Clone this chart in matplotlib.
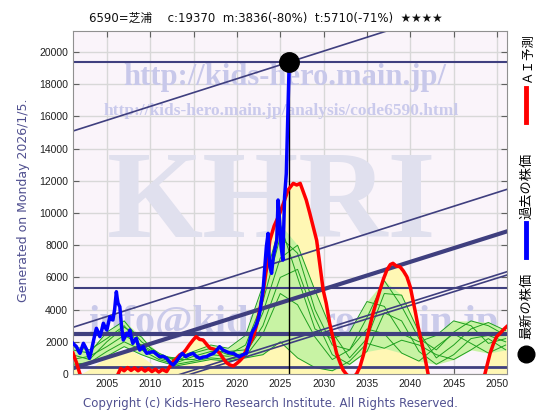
import matplotlib
matplotlib.use("Agg")
import matplotlib.pyplot as plt
from matplotlib.lines import Line2D
import numpy as np

plt.rcParams['font.family'] = ['DejaVu Sans', 'Noto Sans CJK JP']

# ------------ values ----------------------------------
code_name = "6590=芝浦"
close_price = 19370
m_value, m_pct = 3836, -80
t_value, t_pct = 5710, -71

latest_year = 2026.03
latest_price = 19370

# past price (blue)
past_years = [2001.1, 2001.3, 2001.5, 2001.7, 2001.9, 2002.1, 2002.3, 2002.5, 2002.7, 2002.85,
              2003.0, 2003.2, 2003.4, 2003.6, 2003.8, 2004.0, 2004.2, 2004.4, 2004.6, 2004.8,
              2005.0, 2005.2, 2005.35, 2005.5, 2005.7, 2005.9, 2006.1, 2006.2, 2006.3, 2006.5,
              2006.7, 2006.9, 2007.1, 2007.3, 2007.5, 2007.65, 2007.8, 2008.0, 2008.2, 2008.4,
              2008.6, 2008.8, 2009.0, 2009.2, 2009.4, 2009.6, 2010.0, 2010.4, 2010.8, 2011.1,
              2011.5, 2011.9, 2012.3, 2012.65, 2013.0, 2013.4, 2013.7, 2014.1, 2014.5, 2014.95,
              2015.3, 2015.7, 2016.1, 2016.5, 2016.9, 2017.3, 2017.7, 2018.0, 2018.4, 2018.8,
              2019.2, 2019.6, 2020.0, 2020.3, 2020.7, 2021.1, 2021.3, 2021.5, 2021.7, 2021.9,
              2022.1, 2022.3, 2022.5, 2022.65, 2022.85, 2023.05, 2023.2, 2023.4, 2023.6, 2023.7,
              2023.8, 2024.0, 2024.2, 2024.4, 2024.6, 2024.75, 2024.95, 2025.1, 2025.3, 2025.5,
              2025.7, 2025.9, 2026.0]
past_price = [1906, 1800, 1696, 1450, 1284, 1600, 1906, 1700, 1490, 1200,
              975, 1400, 1906, 2400, 2838, 2600, 2320, 2700, 3150, 2900,
              2733, 3200, 3560, 3400, 3354, 4000, 5112, 4700, 4390, 4180,
              2938, 2112, 2300, 2528, 2400, 2733, 2300, 1906, 2100, 2217,
              1800, 1490, 1600, 1696, 1450, 1284, 1350, 1387, 1200, 1077,
              1100, 975, 700, 560, 767, 1077, 1284, 1077, 1200, 1284,
              1100, 975, 1050, 1077, 1200, 1284, 1500, 1696, 1490, 1387,
              1300, 1284, 1150, 1077, 1200, 1284, 1700, 2112, 2500, 2733,
              2900, 3150, 3500, 3870, 4600, 5420, 6500, 7907, 8736, 7500,
              6665, 6252, 7286, 7800, 8323, 10807, 9358, 7907, 7080, 11014,
              12460, 16600, 18677]

# AI prediction (red)
ai_years = [2001.1, 2001.5, 2001.9, 2002.5, 2004.0, 2005.5, 2006.3, 2006.6, 2007.0, 2007.4,
            2007.8, 2008.2, 2008.6, 2009.0, 2009.4, 2009.8, 2010.2, 2010.6, 2011.0, 2011.4,
            2011.9, 2012.3, 2012.65, 2013.0, 2013.4, 2013.8, 2014.1, 2014.5, 2014.95, 2015.3,
            2015.7, 2016.1, 2016.5, 2016.9, 2017.3, 2017.6, 2018.0, 2018.4, 2018.8, 2019.2,
            2019.6, 2020.0, 2020.3, 2020.6, 2021.1, 2021.5, 2021.9, 2022.3, 2022.65, 2023.0,
            2023.4, 2023.8, 2024.3, 2024.95, 2025.5, 2025.9, 2026.5, 2026.9, 2027.3, 2027.6,
            2028.0, 2028.4, 2028.8, 2029.2, 2029.6, 2029.95, 2030.3, 2030.7, 2031.1, 2031.5,
            2031.9, 2032.25, 2032.6, 2033.2, 2033.8, 2034.2, 2034.6, 2034.95, 2035.3, 2035.7,
            2036.1, 2036.5, 2036.9, 2037.3, 2037.7, 2038.0, 2038.4, 2038.8, 2039.2, 2039.6,
            2040.0, 2040.3, 2040.6, 2040.9, 2041.2, 2041.5, 2041.8, 2042.05, 2043.0, 2045.0,
            2047.0, 2048.6, 2049.2, 2049.6, 2049.95, 2050.3, 2050.7, 2051.1]
ai_pred = [1300, 700, 0, -800, -1500, -800, 0, 350, 200, 400,
           220, 380, 200, 350, 180, 330, 150, 300, 120, 280,
           150, 500, 770, 950, 1180, 1300, 1490, 1800, 2112, 2320,
           2150, 2112, 1850, 1600, 1550, 1490, 1300, 975, 700, 560,
           500, 663, 800, 975, 1490, 1900, 2320, 3100, 4000, 5000,
           6500, 8300, 9200, 9980, 10800, 11430, 11843, 11740, 11843, 11400,
           10807, 10000, 9150, 8300, 6665, 5217, 4400, 3150, 2200, 1284,
           700, 248, 0, -300, 0, 455, 1200, 2112, 2900, 3770,
           4500, 5217, 5900, 6460, 6800, 6876, 6700, 6665, 6400, 6044,
           5400, 4596, 3800, 2938, 2200, 1490, 700, 0, -1500, -2500,
           -1500, 0, 1284, 1900, 2320, 2500, 2733, 2938]

# early yellow band
band_years = [2002.0, 2003.0, 2004.0, 2005.0, 2006.0, 2007.0, 2008.0, 2009.0, 2010.0, 2011.0, 2011.6]
band_vals = [0, 300, 700, 1000, 1300, 1500, 1400, 1100, 700, 250, 0]

# ensemble of past/future predictions (green)
ens_years = [2001, 2003, 2005, 2007, 2009, 2011, 2013, 2015, 2017, 2019, 2021, 2023, 2025,
             2027, 2029, 2031, 2033, 2035, 2037, 2039, 2041, 2043, 2045, 2047, 2049, 2051]
ens_1 = [1500, 1300, 2600, 3300, 2000, 1300, 800, 1300, 1600, 1200, 1800, 4500, 8500,
         7500, 4000, 1800, 1500, 3500, 5800, 4200, 2200, 1500, 2600, 3300, 3000, 2400]
ens_2 = [1200, 900, 2000, 2900, 2300, 1000, 700, 1100, 1400, 1400, 1500, 3800, 7200,
         8000, 5200, 2600, 1000, 2200, 5000, 4900, 2600, 1000, 1800, 2800, 3200, 2700]
ens_3 = [900, 1100, 1700, 2400, 1800, 1200, 900, 900, 1200, 1100, 1300, 3000, 6000,
         6500, 3500, 1200, 600, 1400, 3800, 3300, 1400, 600, 1200, 2200, 2400, 2000]
ens_4 = [600, 700, 1400, 2000, 1500, 900, 600, 800, 1000, 900, 1100, 2500, 5000,
         4300, 2300, 900, 1500, 2800, 2500, 1300, 800, 1700, 2500, 1900, 1300, 1800]
ens_5 = [400, 600, 1100, 1700, 1200, 800, 500, 700, 900, 800, 1000, 1200, 2000,
         1000, 400, 200, 800, 1900, 1600, 2100, 1800, 1200, 900, 1500, 2200, 1500]
ens_6 = [1700, 1500, 2200, 3000, 1700, 1100, 1000, 1400, 1800, 1600, 2400, 5500, 9300,
         6000, 2800, 2200, 2600, 4500, 4200, 2500, 2000, 2400, 3300, 3000, 1900, 2200]

# support / resistance levels and trend channels
levels = [19370, 5330, 2480, 430]
trend_start = [15093, 2900, 360, -2108, -2300]   # value at left edge
trend_end = [23692, 11472, 8860, 6354, 6149]     # value at right edge

year_ticks = [2005, 2010, 2015, 2020, 2025, 2030, 2035, 2040, 2045, 2050]
price_ticks = [0, 2000, 4000, 6000, 8000, 10000, 12000, 14000, 16000, 18000, 20000]

# ------------ drawing ---------------
W, H = 560, 420
fig = plt.figure(figsize=(W / 100, H / 100), dpi=100)
ax = fig.add_axes([73 / W, 1 - 374 / H, (507 - 73) / W, (374 - 31) / H])
ax.set_facecolor('#faf4fa')
x0, x1 = 2001.1, 2051.15
ax.set_xlim(x0, x1)
ax.set_ylim(0, close_price * 1.1)
ax.set_axisbelow(True)
ax.grid(color='#d8d8d8', lw=1)

navy = '#3f3f7f'
serif = 'Liberation Serif'

def px(x, y):
    return x / W, 1 - y / H

# watermarks
ax.text(*px(285, 77), 'http://kids-hero.main.jp/', transform=fig.transFigure, ha='center', va='center',
        fontsize=22, family=serif, weight='bold', color='#c8c8ea', zorder=0.8)
ax.text(*px(281, 111), 'http://kids-hero.main.jp/analysis/code6590.html', transform=fig.transFigure,
        ha='center', va='center', fontsize=12.5, family=serif, weight='bold', color='#cacaec', zorder=0.8)
ax.text(*px(272, 207), 'KHRI', transform=fig.transFigure, ha='center', va='center',
        fontsize=89, family=serif, weight='bold', color='#e0e0ee', zorder=0.8)
ax.text(*px(293, 323), 'info@kids-hero.main.jp', transform=fig.transFigure, ha='center', va='center',
        fontsize=29, family=serif, weight='bold', color='#cacaea', zorder=0.8)

# fills
ai_arr = np.array(ai_pred, dtype=float)
ax.fill_between(ai_years, 0, np.clip(ai_arr, 0, None), color='#fff7b4', lw=0, zorder=1)
ax.fill_between(band_years, 0, band_vals, color='#fff7b4', lw=0, zorder=1)
ens = np.vstack([ens_1, ens_2, ens_3, ens_4, ens_5, ens_6])
ax.fill_between(ens_years, ens.min(axis=0), ens.max(axis=0), color='#c8f3a4', lw=0, zorder=1.1)
for row in ens:
    ax.plot(ens_years, row, color='#1fa01f', lw=0.7, zorder=1.2)

# levels and channels
level_lw = [1.5, 1.5, 3, 2]
for v, lw in zip(levels, level_lw):
    ax.axhline(v, color=navy, lw=lw, zorder=2)
trend_lw = [1.2, 1.2, 3, 1.2, 1.2]
for a, b, lw in zip(trend_start, trend_end, trend_lw):
    ax.plot([x0, x1], [a, b], color=navy, lw=lw, zorder=2)

ax.plot([latest_year, latest_year], [0, latest_price], color='black', lw=1, zorder=2.5)
ax.plot(ai_years, ai_pred, color='#ff0000', lw=2.5, zorder=3)
ax.plot(past_years, past_price, color='#0000ff', lw=2.5, zorder=3.5)
ax.plot([latest_year], [latest_price], 'o', color='black', ms=14, zorder=5, clip_on=False)

ax.set_xticks(year_ticks)
ax.set_yticks(price_ticks)
ax.tick_params(direction='in', length=4, top=True, right=True, labelsize=7.5,
               colors='#606060', labelcolor='#202020')
for lab in ax.get_xticklabels() + ax.get_yticklabels():
    lab.set_family('Liberation Sans')
for s in ax.spines.values():
    s.set_color('#909090')

# title and side texts
title = f"{code_name}　 c:{close_price}  m:{m_value}({m_pct}%)  t:{t_value}({t_pct}%)  ★★★★"
fig.text(*px(266, 18), title, ha='center', va='center', fontsize=8.5, color='#101010')
fig.text(*px(24, 200), 'Generated on Monday 2026/1/5.', rotation=90, ha='center', va='center',
         fontsize=9, color='#505090')
fig.text(*px(270, 403), 'Copyright (c) Kids-Hero Research Institute. All Rights Reserved.',
         ha='center', va='center', fontsize=8.5, color='#505090')

# legend on the right
jp = ['Noto Sans CJK JP']
fig.text(*px(527, 58), 'ＡＩ予測', rotation=90, ha='center', va='center', fontsize=9, family=jp)
fig.add_artist(Line2D([526 / W] * 2, [1 - 88 / H, 1 - 122 / H], color='#ff0000', lw=3.5))
fig.text(*px(527, 186), '過去の株価', rotation=90, ha='center', va='center', fontsize=9.5, family=jp)
fig.add_artist(Line2D([526 / W] * 2, [1 - 223 / H, 1 - 257 / H], color='#0000ff', lw=3.5))
fig.text(*px(527, 306), '最新の株価', rotation=90, ha='center', va='center', fontsize=9.5, family=jp)
fig.add_artist(Line2D([526 / W], [1 - 354 / H], marker='o', color='black', ms=12))

fig.savefig('out.png', dpi=100)
